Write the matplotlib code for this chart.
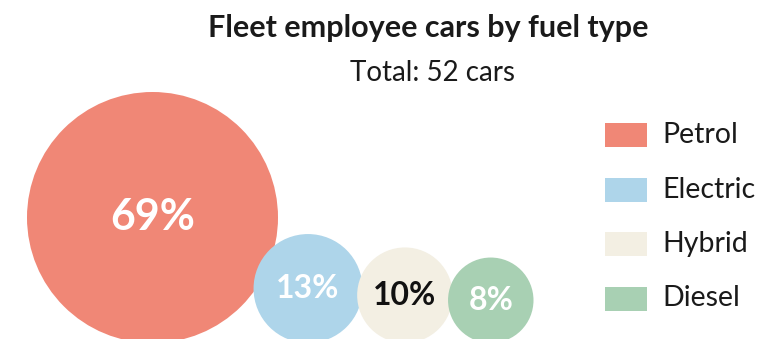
import numpy as np
import matplotlib.pyplot as plt
from matplotlib.patches import Circle, Rectangle

plt.rcParams['font.family'] = ['Lato', 'DejaVu Sans']

# share of the 52 fleet cars per fuel type
fuel_types = ['Petrol', 'Electric', 'Hybrid', 'Diesel']
shares = [69, 13, 10, 8]
colors = ['#F08776', '#AED5EA', '#F3EFE3', '#A8D0B3']
label_colors = ['white', 'white', '#111111', 'white']
total_cars = 52

W, H = 764, 339
fig = plt.figure(figsize=(W / 100, H / 100), dpi=100)
ax = fig.add_axes([0, 0, 1, 1])
ax.set_xlim(0, W)
ax.set_ylim(H, 0)
ax.axis('off')

# bubble area proportional to share
r_max = 125.5
shares_arr = np.array(shares, dtype=float)
radii = r_max * np.sqrt(shares_arr / shares_arr.max())

# bubbles sit on a common baseline, each one tucked into the previous one
baseline = 343
overlap = 0.95
cx = [152.5]
for i in range(1, len(radii)):
    dist = overlap * (radii[i - 1] + radii[i])
    dy = radii[i - 1] - radii[i]
    cx.append(cx[-1] + np.sqrt(dist ** 2 - dy ** 2))
cy = baseline - radii

for i in range(len(shares)):
    ax.add_patch(Circle((cx[i], cy[i]), radii[i], facecolor=colors[i],
                        edgecolor='none', zorder=i + 1))
    fs = float(np.clip(radii[i] * 0.25, 23, 31))
    ax.text(cx[i], cy[i], f'{shares[i]}%', ha='center', va='center',
            fontsize=fs, fontweight='bold', color=label_colors[i],
            zorder=10)

# titles
ax.text(428, 28, 'Fleet employee cars by fuel type', ha='center',
        va='center', fontsize=22, fontweight='bold', color='#1a1a1a')
ax.text(433, 73, f'Total: {total_cars} cars', ha='center', va='center',
        fontsize=20, color='#1a1a1a')

# legend
for i, name in enumerate(fuel_types):
    y = 135 + i * 54.5
    ax.add_patch(Rectangle((605, y - 12), 42, 24, facecolor=colors[i],
                           edgecolor='none'))
    ax.text(662, y, name, ha='left', va='center', fontsize=20.5,
            color='#1a1a1a')

fig.savefig('out.png', dpi=100)
